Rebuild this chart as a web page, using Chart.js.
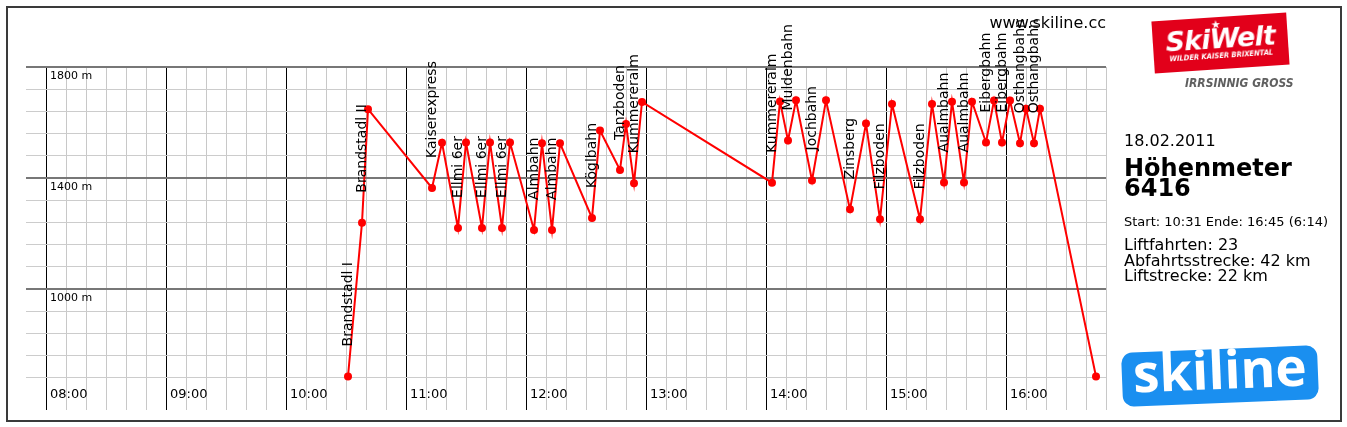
<!DOCTYPE html>
<html><head><meta charset="utf-8">
<script src="https://cdn.jsdelivr.net/npm/chart.js@4.4.0/dist/chart.umd.min.js"></script>
<style>
html,body{margin:0;padding:0;background:#fff;}
#wrap{position:relative;width:1347px;height:427px;overflow:hidden;font-family:'DejaVu Sans',sans-serif;color:#000;}
#c{position:absolute;left:0;top:0;}
#frame{position:absolute;left:6px;top:6px;width:1336px;height:416px;box-sizing:border-box;border:2px solid #3a3a3a;pointer-events:none;}
.t{position:absolute;white-space:nowrap;}
</style></head><body>
<div id="wrap">
<canvas id="c" width="1347" height="427"></canvas>
<div id="frame"></div>
<div class="t" style="right:241px;top:15px;font-size:16px;line-height:16px;">www.skiline.cc</div>

<div style="position:absolute;left:1153px;top:17px;width:135px;height:52px;background:#e2001a;transform:rotate(-3.8deg);">
  <div class="t" style="left:0;width:100%;top:8px;text-align:center;color:#fff;font:italic bold 27px/27px 'DejaVu Sans';letter-spacing:-0.8px;">SkiWelt</div>
  <div class="t" style="left:59px;top:2px;color:#fff;font-size:11px;line-height:11px;">★</div>
  <div class="t" style="left:0;width:100%;top:35px;text-align:center;color:#fff;font:italic bold 7.5px/8px 'DejaVu Sans Condensed','DejaVu Sans';">WILDER KAISER BRIXENTAL</div>
</div>
<div class="t" style="left:1185px;top:77px;color:#606060;font:italic bold 12px/12px 'DejaVu Sans Condensed','DejaVu Sans';">IRRSINNIG GROSS</div>

<div class="t" style="left:1124px;top:133px;font-size:16px;line-height:16px;">18.02.2011</div>
<div class="t" style="left:1124px;top:158px;font-size:24px;line-height:20px;font-weight:bold;">Höhenmeter<br>6416</div>
<div class="t" style="left:1124px;top:215px;font-size:13px;line-height:13px;">Start: 10:31 Ende: 16:45 (6:14)</div>
<div class="t" style="left:1124px;top:237px;font-size:16px;line-height:15.5px;">Liftfahrten: 23<br>Abfahrtsstrecke: 42 km<br>Liftstrecke: 22 km</div>

<div style="position:absolute;left:1122px;top:349px;width:196px;height:54px;background:#1a8ff0;border-radius:11px;transform:rotate(-2.3deg);">
  <div class="t" style="left:0;width:100%;top:-7px;text-align:center;color:#fff;font:bold 53px/54px 'Open Sans';">skiline</div>
</div>
</div>

<script>
// Data
const times = ['10:31','10:38','10:41','11:13','11:18','11:26','11:30','11:38','11:42','11:48','11:52',
  '12:04','12:08','12:13','12:17','12:33','12:37','12:47','12:50','12:54','12:58',
  '14:03','14:07','14:11','14:15','14:23','14:30','14:42','14:50','14:57','15:03',
  '15:17','15:23','15:29','15:33','15:39','15:43','15:50','15:54','15:58','16:02',
  '16:07','16:10','16:14','16:17','16:45'];
const elevations = [685,1239,1648,1364,1527,1220,1528,1220,1528,1220,1528,
  1213,1525,1213,1525,1256,1571,1429,1595,1381,1674,
  1383,1676,1535,1680,1391,1680,1287,1596,1251,1667,
  1251,1667,1384,1675,1384,1675,1528,1679,1528,1679,
  1525,1650,1525,1650,685];
const stations = ['Brandstadl I','Brandstadl II','','Kaiserexpress','','Ellmi 6er','','Ellmi 6er','','Ellmi 6er','',
  'Almbahn','','Almbahn','','Köglbahn','','Tanzboden','','Kummereralm','',
  'Kummereralm','','Muldenbahn','','Jochbahn','','Zinsberg','','Filzboden','',
  'Filzboden','','Aualmbahn','','Aualmbahn','','Eibergbahn','','Eibergbahn','',
  'Osthangbahn','','Osthangbahn','',''];
const xTickLabels = ['08:00','09:00','10:00','11:00','12:00','13:00','14:00','15:00','16:00'];
const yTickLabels = ['1800 m','1400 m','1000 m'];
const yMajor = [1000,1400,1800];

function toMin(s){const p=s.split(':');return (+p[0])*60+(+p[1]);}

const points = times.map((t,i)=>({x:toMin(t), y:elevations[i]}));

const annot = {
  id:'annot',
  afterDatasetsDraw(chart){
    const ctx=chart.ctx, xs=chart.scales.x, ys=chart.scales.y;
    const meta=chart.getDatasetMeta(0);
    ctx.save();
    ctx.fillStyle='#000';
    ctx.textAlign='left'; ctx.textBaseline='middle';
    ctx.font='14px "DejaVu Sans"';
    meta.data.forEach((pt,i)=>{
      const s=stations[i]; if(!s) return;
      ctx.save(); ctx.translate(pt.x, pt.y-30); ctx.rotate(-Math.PI/2); ctx.fillText(s,0,0); ctx.restore();
    });
    ctx.font='13px "DejaVu Sans"';
    xTickLabels.forEach(l=>{ctx.fillText(l, xs.getPixelForValue(toMin(l))+4, ys.bottom-15);});
    ctx.font='11px "DejaVu Sans"';
    const x0 = xs.getPixelForValue(toMin(xTickLabels[0]))+4;
    yTickLabels.forEach(l=>{ctx.fillText(l, x0, ys.getPixelForValue(parseFloat(l))+9);});
    ctx.restore();
  }
};

new Chart(document.getElementById('c'), {
  type:'line',
  data:{datasets:[{
    data:points,
    borderColor:'#ff0000', borderWidth:2,
    pointRadius:4, pointBackgroundColor:'#ff0000', pointBorderWidth:0,
    tension:0, clip:false
  }]},
  options:{
    responsive:false, animation:false, devicePixelRatio:1,
    layout:{padding:{left:26,right:241,top:67,bottom:17}},
    plugins:{legend:{display:false},tooltip:{enabled:false}},
    scales:{
      x:{type:'linear', min:470, max:1010,
        afterBuildTicks:(sc)=>{const a=[];for(let v=480;v<=1010;v+=10)a.push({value:v});sc.ticks=a;},
        ticks:{display:false}, border:{display:false},
        grid:{drawTicks:false,
          color:(c)=>c.tick && c.tick.value%60===0 ? '#000000' : '#c8c8c8',
          lineWidth:1}
      },
      y:{type:'linear', min:564, max:1800,
        afterBuildTicks:(sc)=>{const a=[];for(let v=680;v<=1800;v+=80)a.push({value:v});sc.ticks=a;},
        ticks:{display:false}, border:{display:false},
        grid:{drawTicks:false,
          color:(c)=>c.tick && yMajor.includes(c.tick.value) ? '#777777' : '#cccccc',
          lineWidth:(c)=>c.tick && yMajor.includes(c.tick.value) ? 2 : 1}
      }
    }
  },
  plugins:[annot]
});
</script>
</body></html>
